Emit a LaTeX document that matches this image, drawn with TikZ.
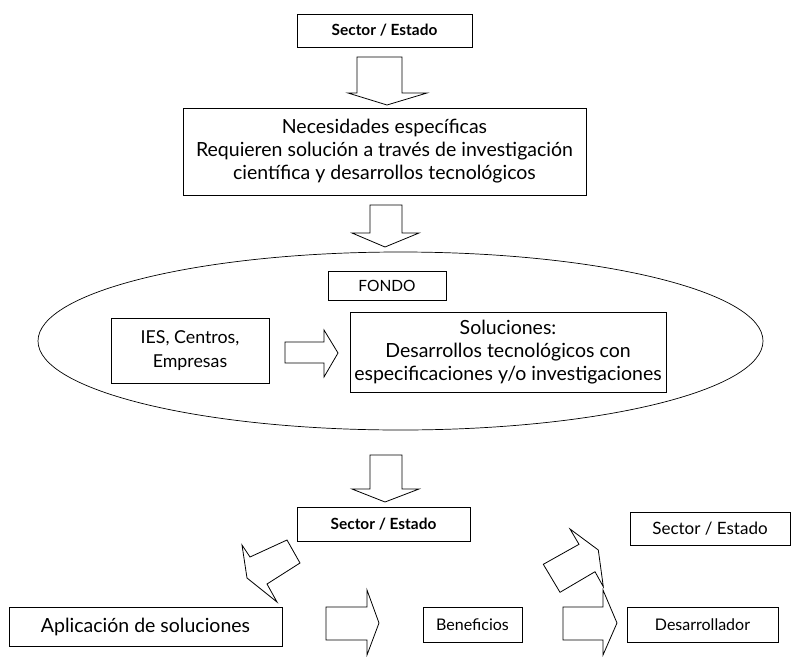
\documentclass[tikz,border=0pt]{standalone}
\usepackage{fontspec}
\setmainfont{Lato}
\usetikzlibrary{shapes.geometric}
\newcommand{\fsz}[2]{\fontsize{#1}{#2}\selectfont}
\begin{document}
\begin{tikzpicture}[x=1pt,y=-1pt,
  box/.style={draw,line width=0.8pt,inner sep=0pt,align=center},
  bbox/.style={box,font=\fsz{15.4}{20}\bfseries},
  barrow/.style={draw,line width=0.8pt,line join=miter,fill=white}]
\useasboundingbox (0,0) rectangle (800,656);
% boxes
\node[bbox,minimum width=175,minimum height=33] (s1) at (384.5,30.5) {Sector / Estado};
\node[box,font=\fsz{19.5}{23},minimum width=403,minimum height=87] (nec) at (384.5,151.5) {Necesidades específicas\\Requieren solución a través de investigación\\científica y desarrollos tecnológicos};
\node[draw,line width=0.7pt,ellipse,minimum width=725,minimum height=178,inner sep=0pt] (ell) at (400.5,341) {};
\node[box,font=\fsz{15.5}{20},minimum width=118,minimum height=29] (fondo) at (387,285.5) {FONDO};
\node[box,font=\fsz{17.8}{24},minimum width=158,minimum height=65] (ies) at (190,350.5) {IES, Centros,\\Empresas};
\node[box,font=\fsz{19.5}{23},minimum width=316,minimum height=80] (sol) at (508,352) {Soluciones:\\Desarrollos tecnológicos con\\especificaciones y/o investigaciones};
\node[bbox,minimum width=173,minimum height=34] (s2) at (383.5,524) {Sector / Estado};
\node[box,font=\fsz{17}{20},minimum width=160,minimum height=33] (s3) at (710,528.5) {Sector / Estado};
\node[box,font=\fsz{19.5}{23},minimum width=273,minimum height=39] (apl) at (145.5,626.5) {Aplicación de soluciones};
\node[box,font=\fsz{16}{20},minimum width=99,minimum height=35] (ben) at (472.5,624.5) {Beneficios};
\node[box,font=\fsz{16}{20},minimum width=151,minimum height=35] (des) at (702.5,624.5) {Desarrollador};
% vertical block arrows
\draw[barrow] (357,57) -- (402,57) -- (402,93) -- (427,93) -- (387,105) -- (348,93) -- (357,93) -- cycle;
\draw[barrow] (370,205) -- (402,205) -- (402,233) -- (419,233) -- (385,247) -- (352,233) -- (370,233) -- cycle;
\draw[barrow] (370,455) -- (402,455) -- (402,489) -- (419,489) -- (385,502) -- (352,489) -- (370,489) -- cycle;
% horizontal block arrows
\draw[barrow] (285,342) -- (324,342) -- (324,330) -- (338,353) -- (324,377) -- (324,363) -- (285,363) -- cycle;
\draw[barrow] (326,607) -- (367,607) -- (367,590) -- (379,623) -- (367,655) -- (367,640) -- (326,640) -- cycle;
% diagonal arrows
\draw[barrow] (543.3,564.3) -- (579,544.3) -- (570,529) -- (598.3,550) -- (603.3,586.7) -- (595,571.7) -- (560,592.3) -- cycle;
\draw[barrow] (563,607) -- (603,607) -- (603,590) -- (617,623) -- (603,655) -- (603,640) -- (563,640) -- cycle;
\draw[barrow] (287,540) -- (250,557) -- (242,545) -- (247,578) -- (277,602) -- (267,584) -- (300,563) -- cycle;
\end{tikzpicture}
\end{document}
